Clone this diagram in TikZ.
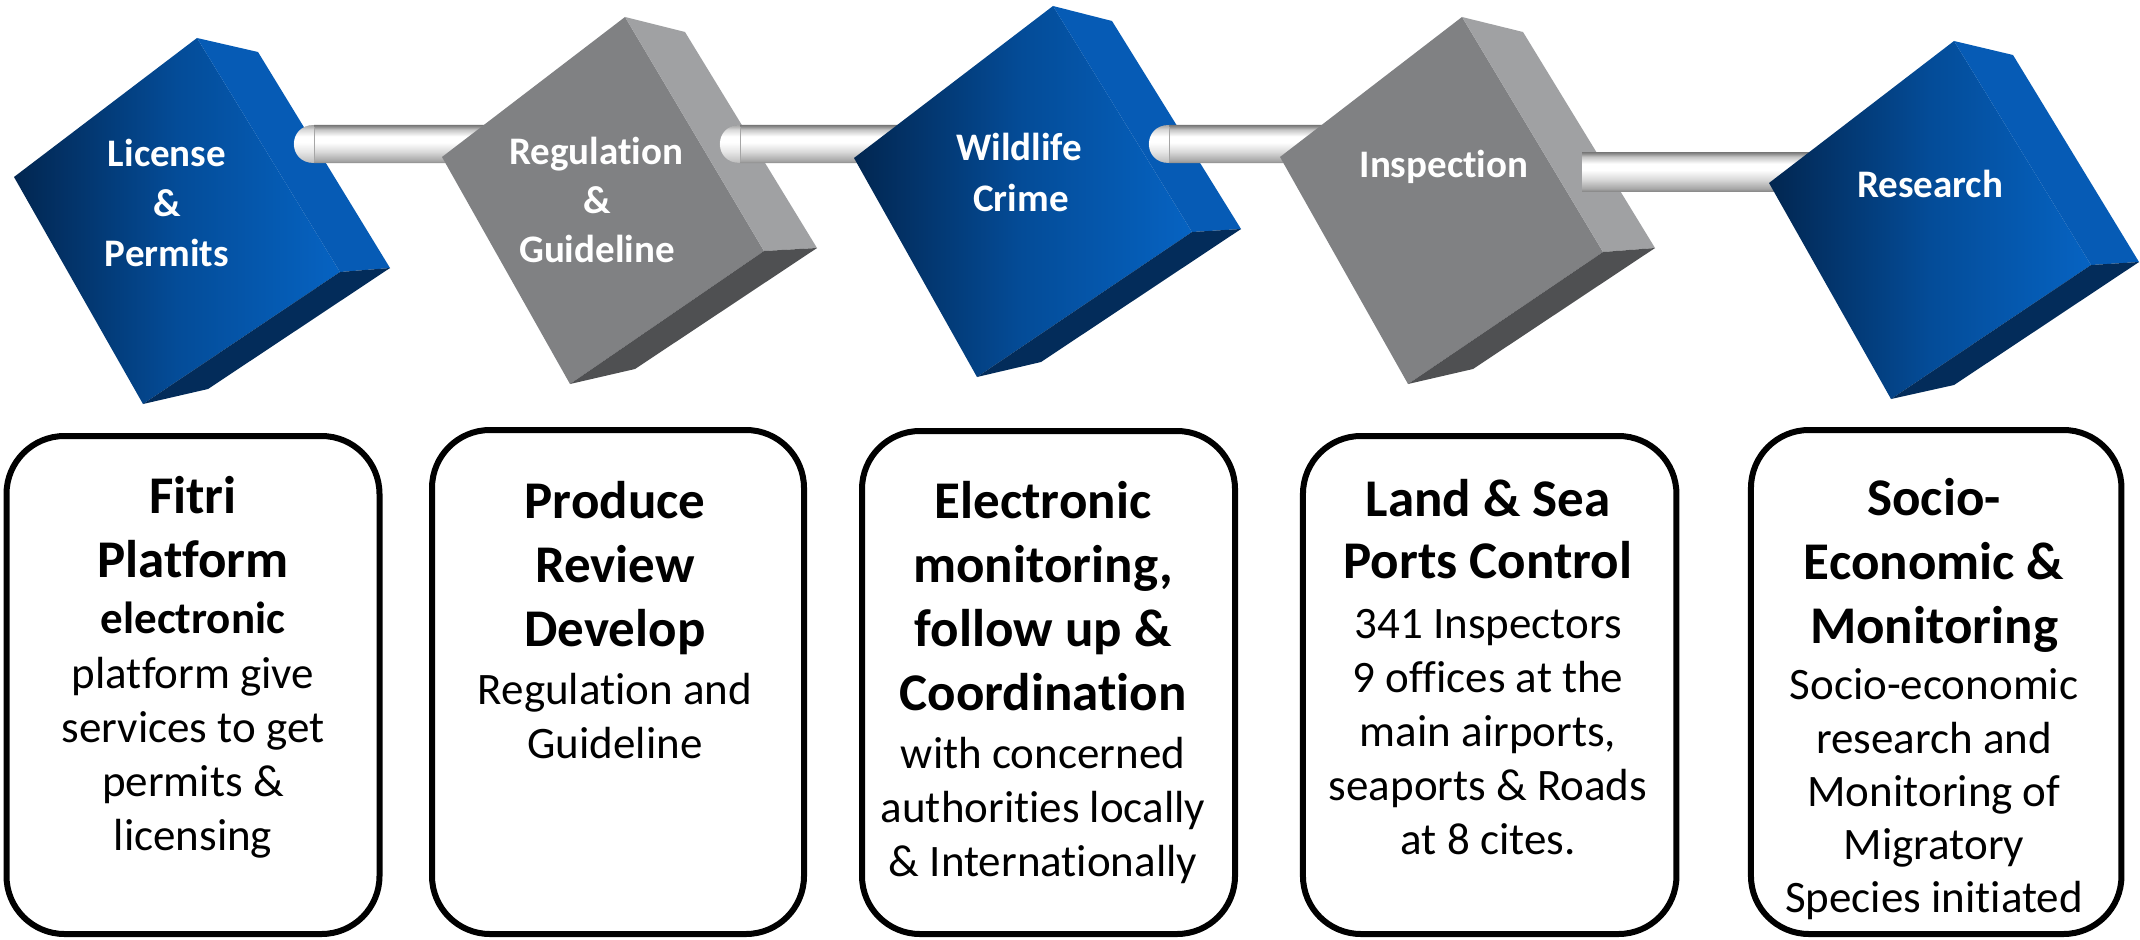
\documentclass[tikz,border=0pt]{standalone}
\usepackage{fontspec}
\setmainfont[RawFeature={-liga;-clig;-dlig;-calt}]{Carlito}
\definecolor{bdark}{HTML}{022650}
\definecolor{bmid}{HTML}{044C98}
\definecolor{blight}{HTML}{0663C2}
\definecolor{bside}{HTML}{065BB5}
\definecolor{bbot}{HTML}{032C5A}
\definecolor{gfront}{HTML}{808183}
\definecolor{gside}{HTML}{A0A1A3}
\definecolor{gbot}{HTML}{4F5052}
\definecolor{rodA}{HTML}{767676}
\definecolor{rodB}{HTML}{8C8C8C}
\definecolor{rodC}{HTML}{C4C4C4}
\definecolor{rodD}{HTML}{A6A6A6}
\definecolor{rodE}{HTML}{DADADA}
\pgfdeclareverticalshading{rodshade}{100bp}{color(0bp)=(rodB); color(25bp)=(rodB); color(28bp)=(rodD); color(40bp)=(rodE); color(52bp)=(white); color(60bp)=(white); color(69bp)=(rodC); color(73bp)=(rodB); color(75bp)=(rodA); color(100bp)=(rodA)}
% cube: #1 T, #2 B, #3 RB, #4 FR, #5 BB, #6 BOT, #7 L
\newcommand\bluecube[7]{%
  \shade[left color=bdark,right color=blight,middle color=bmid] #1 -- #7 -- #6 -- #4 -- cycle;
  \fill[bside] #1 -- #2 -- #3 -- #4 -- cycle;
  \fill[bbot] #4 -- #3 -- #5 -- #6 -- cycle;}
\newcommand\graycube[7]{%
  \fill[gfront] #1 -- #7 -- #6 -- #4 -- cycle;
  \fill[gside] #1 -- #2 -- #3 -- #4 -- cycle;
  \fill[gbot] #4 -- #3 -- #5 -- #6 -- cycle;}
% rod with rounded left end: #1 x start, #2 x end, #3 y top
\newcommand\rodround[3]{%
  \shade[shading=rodshade] ({#1+20},#3) -- (#2,#3) -- (#2,{#3+38}) -- ({#1+20},{#3+38})
     .. controls ({#1-6.7},{#3+38}) and ({#1-6.7},#3) .. ({#1+20},#3) -- cycle;
  \fill[white,opacity=.35] ({#1+20},#3) -- ({#1+20},{#3+38})
     .. controls ({#1-6.7},{#3+38}) and ({#1-6.7},#3) .. ({#1+20},#3) -- cycle;
  \draw[rodD,line width=0.8pt] ({#1+20},{#3+2}) -- ({#1+20},{#3+36});}
\begin{document}
\begin{tikzpicture}[x=1pt,y=-1pt,
  card/.style={draw=black,line width=6pt,rounded corners=58pt,fill=white,inner sep=0pt},
  cubetxt/.style={text=white,font=\fontsize{39}{48}\selectfont\bfseries,anchor=base,inner sep=0pt},
  headtxt/.style={font=\fontsize{53}{64}\selectfont\bfseries,anchor=base,inner sep=0pt},
  bodytxt/.style={font=\fontsize{45}{54}\selectfont,anchor=base,inner sep=0pt},
  bodybold/.style={font=\fontsize{45}{54}\selectfont\bfseries,anchor=base,inner sep=0pt}]
\fill[white] (0,0) rectangle (2140,939);
\useasboundingbox (0,0) rectangle (2140,939);

% cubes and rods (back to front)
\bluecube{(197,38)}{(258,52)}{(390,268)}{(340,272)}{(208,389)}{(143,404)}{(14,177)}
\node[cubetxt] (k1a) at (167,166) {License};
\node[cubetxt] (k1b) at (167,216) {\&};
\node[cubetxt] (k1c) at (167,266) {Permits};
\rodround{294}{560}{125}
\graycube{(625,17)}{(685,32)}{(817,248)}{(764,251)}{(635,369)}{(570,384)}{(442,157)}
\node[cubetxt] (k2a) at (596,164) {Regulation};
\node[cubetxt] (k2b) at (597,213) {\&};
\node[cubetxt] (k2c) at (597,262) {Guideline};
\rodround{720}{980}{125}
\bluecube{(1053,6)}{(1112,21)}{(1241,229)}{(1192,232)}{(1041,362)}{(977,377)}{(854,158)}
\node[cubetxt] (k3a) at (1019,160) {Wildlife};
\node[cubetxt] (k3b) at (1021,211) {Crime};
\rodround{1149}{1400}{125}
\graycube{(1462,17)}{(1523,32)}{(1655,248)}{(1603,252)}{(1473,369)}{(1408,384)}{(1280,157)}
\node[cubetxt] (k4a) at (1444,177) {Inspection};
\shade[shading=rodshade] (1582,152) rectangle (1850,191);
\bluecube{(1954,41)}{(2013,55)}{(2139,262)}{(2091,265)}{(1954,385)}{(1891,399)}{(1769,183)}
\node[cubetxt] (k5a) at (1930,197) {Research};

% cards
\node[card,minimum width=373pt,minimum height=498pt] (p1) at (193,685) {};
\node[card,minimum width=372pt,minimum height=504pt] (p2) at (618,682) {};
\node[card,minimum width=373pt,minimum height=503pt] (p3) at (1048.5,682.5) {};
\node[card,minimum width=373.5pt,minimum height=498pt] (p4) at (1489.7,685) {};
\node[card,minimum width=370.5pt,minimum height=504pt] (p5) at (1936.2,682) {};

\foreach \s/\t/\y [count=\k] in {headtxt/Fitri/513, headtxt/Platform/577,
   bodybold/electronic/633, bodytxt/platform give/688, bodytxt/services to get/742,
   bodytxt/permits \&/796, bodytxt/licensing/850}
  \node[\s] (ta\k) at (193,\y) {\t};

\foreach \s/\t/\y [count=\k] in {headtxt/Produce/518, headtxt/Review/582, headtxt/Develop/646,
   bodytxt/Regulation and/704, bodytxt/Guideline/758}
  \node[\s] (tb\k) at (615,\y) {\t};

\foreach \s/\t/\y [count=\k] in {headtxt/Electronic/518, headtxt/{monitoring,}/582,
   headtxt/follow up \&/646, headtxt/Coordination/710,
   bodytxt/with concerned/768, bodytxt/authorities locally/822, bodytxt/\& Internationally/876}
  \node[\s] (tc\k) at (1043,\y) {\t};

\foreach \s/\t/\y [count=\k] in {headtxt/Land \& Sea/516, headtxt/Ports Control/578,
   bodytxt/341 Inspectors/638, bodytxt/9 offices at the/692, bodytxt/{main airports,}/746,
   bodytxt/seaports \& Roads/800, bodytxt/at 8 cites./854}
  \node[\s] (td\k) at (1488,\y) {\t};

\foreach \s/\t/\y [count=\k] in {headtxt/Socio-/515, headtxt/Economic \&/579, headtxt/Monitoring/643,
   bodytxt/Socio-economic/699, bodytxt/research and/753, bodytxt/Monitoring of/806,
   bodytxt/Migratory/859, bodytxt/Species initiated/912}
  \node[\s] (te\k) at (1934,\y) {\t};
\end{tikzpicture}
\end{document}
